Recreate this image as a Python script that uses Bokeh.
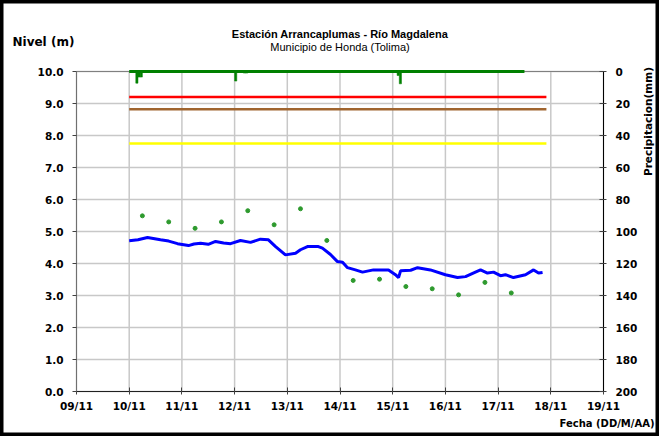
import math
import pandas as pd
from bokeh.plotting import figure
from bokeh.models import (ColumnDataSource, Range1d, LinearAxis, DatetimeAxis, FixedTicker,
                          DatetimeTickFormatter, PrintfTickFormatter, Label)
from bokeh.embed import file_html
from bokeh.resources import INLINE

# ---------------- data ----------------
level_time = [
    "2011-11-10 00:00", "2011-11-10 04:00", "2011-11-10 08:20", "2011-11-10 14:15",
    "2011-11-10 18:00", "2011-11-10 22:00",
    "2011-11-11 03:00", "2011-11-11 05:30", "2011-11-11 08:30", "2011-11-11 12:00",
    "2011-11-11 15:20", "2011-11-11 19:00", "2011-11-11 22:10",
    "2011-11-12 02:40", "2011-11-12 07:15", "2011-11-12 11:45", "2011-11-12 15:25",
    "2011-11-12 18:40", "2011-11-12 23:10", "2011-11-13 03:45", "2011-11-13 06:00",
    "2011-11-13 09:10", "2011-11-13 14:10", "2011-11-13 16:00", "2011-11-13 19:40",
    "2011-11-13 22:50", "2011-11-14 01:10", "2011-11-14 03:25", "2011-11-14 07:00",
    "2011-11-14 10:15", "2011-11-14 15:15", "2011-11-14 22:05", "2011-11-15 01:15",
    "2011-11-15 02:40", "2011-11-15 03:35", "2011-11-15 08:10", "2011-11-15 11:20",
    "2011-11-15 17:10", "2011-11-16 00:00", "2011-11-16 05:30", "2011-11-16 09:10",
    "2011-11-16 13:40", "2011-11-16 16:00", "2011-11-16 19:10", "2011-11-16 21:55",
    "2011-11-17 01:05", "2011-11-17 03:20", "2011-11-17 07:00", "2011-11-17 12:30",
    "2011-11-17 16:10", "2011-11-17 18:25", "2011-11-17 20:15",
]
level_m = [
    4.71, 4.74, 4.81, 4.74,
    4.70, 4.62,
    4.56, 4.61, 4.63, 4.60,
    4.69, 4.64, 4.62,
    4.72, 4.66, 4.76, 4.74,
    4.53, 4.27, 4.32, 4.43,
    4.53, 4.53, 4.48, 4.28,
    4.06, 4.04, 3.87, 3.80,
    3.73, 3.80, 3.80, 3.65,
    3.56, 3.77, 3.79, 3.87,
    3.80, 3.65, 3.56, 3.59,
    3.73, 3.80, 3.70, 3.73,
    3.62, 3.65, 3.56, 3.65,
    3.80, 3.70, 3.72,
]

reading_time = [
    "2011-11-10 06:00", "2011-11-10 18:00", "2011-11-11 06:00", "2011-11-11 18:00",
    "2011-11-12 06:00", "2011-11-12 18:00", "2011-11-13 06:00", "2011-11-13 18:00",
    "2011-11-14 06:00", "2011-11-14 18:00", "2011-11-15 06:00", "2011-11-15 18:00",
    "2011-11-16 06:00", "2011-11-16 18:00", "2011-11-17 06:00",
]
reading_m = [5.49, 5.30, 5.10, 5.30, 5.65, 5.21, 5.71, 4.72,
             3.47, 3.51, 3.28, 3.21, 3.02, 3.41, 3.08]

precip_start = "2011-11-10 00:00"
precip_end = "2011-11-17 12:00"
precip_time = ["2011-11-10 03:30", "2011-11-10 04:30", "2011-11-10 05:30",
               "2011-11-12 00:30", "2011-11-12 04:30", "2011-11-12 05:30",
               "2011-11-15 02:30", "2011-11-15 03:30"]
precip_mm = [7.3, 3.5, 3.5, 6.0, 1.0, 1.0, 2.5, 7.7]

alert_level = [9.2, 8.82, 7.75]
alert_color = ["#FF0000", "#A0652F", "#FFFF00"]
alert_start = "2011-11-10 00:00"
alert_end = "2011-11-17 22:00"

level_ticks = [0, 1, 2, 3, 4, 5, 6, 7, 8, 9, 10]
precip_ticks = [0, 20, 40, 60, 80, 100, 120, 140, 160, 180, 200]
day_ticks = ["2011-11-09", "2011-11-10", "2011-11-11", "2011-11-12", "2011-11-13",
             "2011-11-14", "2011-11-15", "2011-11-16", "2011-11-17", "2011-11-18",
             "2011-11-19"]

title_text = "Estación Arrancaplumas - Río Magdalena"
subtitle_text = "Municipio de Honda (Tolima)"
ylabel_text = "Nivel (m)"
y2label_text = "Precipitacion(mm)"
xlabel_text = "Fecha (DD/M/AA)"

# ---------------- geometry (page pixels) ----------------
W, H = 659, 436          # canvas size
OFF = 0                  # canvas offset on page
PL, PR, PT, PB = 76.0, 603.0, 71.0, 391.0   # plot area on page


def ms(s):
    return pd.Timestamp(s).timestamp() * 1000.0


t0 = ms(day_ticks[0])
t1 = ms(day_ticks[-1])
lev0, lev1 = level_ticks[0], level_ticks[-1]
pr0, pr1 = precip_ticks[-1], precip_ticks[0]   # precip: 200 at bottom, 0 at top

xs = (t1 - t0) / (PR - PL)          # ms per pixel
ys = (lev1 - lev0) / (PB - PT)      # level per pixel
ps = (pr0 - pr1) / (PB - PT)        # mm per pixel


def xpos(px):
    return t0 + (px - PL) * xs


def ypos(py):
    return lev0 + (PB - py) * ys


x_range = Range1d(xpos(OFF), xpos(OFF + W))
y_range = Range1d(ypos(OFF + H), ypos(OFF))
p_range = Range1d(pr0 + (OFF + H - PB) * ps, pr1 - (PT - OFF) * ps)

p = figure(width=W, height=H, x_axis_type=None, y_axis_type=None,
           x_range=x_range, y_range=y_range,
           output_backend="svg", toolbar_location=None,
           min_border=0, min_border_left=0, min_border_right=0,
           min_border_top=0, min_border_bottom=0)
p.background_fill_color = "white"
p.border_fill_color = "white"
# the frame fills the whole canvas, so its outline is the picture's black border
p.outline_line_color = "black"
p.outline_line_width = 6
p.grid.visible = False
p.extra_y_ranges = {"precip": p_range}

AX_FONT = "DejaVu Sans"
GRID = "#C8C8C8"

# grid lines (from the tick lists)
p.segment(x0=[t0] * len(level_ticks), x1=[t1] * len(level_ticks), y0=level_ticks, y1=level_ticks,
          line_color=GRID, line_width=1.5)
day_ms = [ms(d) for d in day_ticks]
p.segment(x0=day_ms, x1=day_ms, y0=[lev0] * len(day_ms), y1=[lev1] * len(day_ms),
          line_color=GRID, line_width=1.5)
# top edge of plot area
p.segment(x0=[t0], x1=[t1], y0=[lev1], y1=[lev1], line_color="#808080", line_width=1)

# axes (fixed at the plot-area edges)
xaxis = DatetimeAxis(fixed_location=lev0, bounds=(t0, t1), ticker=FixedTicker(ticks=day_ms))
xaxis.formatter = DatetimeTickFormatter(days="%d/%m", hours="%d/%m", months="%d/%m")
xaxis.axis_line_color = "#202020"
xaxis.major_tick_in = 4
xaxis.major_tick_out = 3
xaxis.major_label_standoff = 5
p.add_layout(xaxis, "below")

yaxis = LinearAxis(fixed_location=t0, bounds=(lev0, lev1), ticker=FixedTicker(ticks=level_ticks))
yaxis.formatter = PrintfTickFormatter(format="%.1f")
yaxis.axis_line_color = "#707070"
yaxis.major_tick_in = 0
yaxis.major_tick_out = 4
yaxis.major_label_standoff = 9
p.add_layout(yaxis, "left")

raxis = LinearAxis(fixed_location=t1, y_range_name="precip", bounds=(pr1, pr0),
                   ticker=FixedTicker(ticks=precip_ticks))
raxis.axis_line_color = "black"
raxis.major_tick_in = 4
raxis.major_tick_out = 3
raxis.major_label_standoff = 9
p.add_layout(raxis, "right")

for ax in [xaxis, yaxis, raxis]:
    ax.minor_tick_line_color = None
    ax.major_label_text_font = AX_FONT
    ax.major_label_text_font_style = "bold"
    ax.major_label_text_font_size = "10.5px"
    ax.major_label_text_color = "black"
    ax.major_tick_line_color = "#404040"

# alert lines
alert_src = ColumnDataSource(dict(
    x0=[ms(alert_start)] * len(alert_level),
    x1=[ms(alert_end)] * len(alert_level),
    y=alert_level, color=alert_color))
p.segment(x0="x0", y0="y", x1="x1", y1="y", line_color="color", line_width=2.5, source=alert_src)

# precipitation (hanging from the top, inverted right axis)
p.segment(x0=[ms(precip_start)], y0=[0], x1=[ms(precip_end)], y1=[0],
          y_range_name="precip", line_color="#008000", line_width=3)
p.vbar(x=[ms(t) for t in precip_time], top=[0] * len(precip_mm), bottom=precip_mm,
       width=3600 * 1000, y_range_name="precip", fill_color="#008000", line_color="#008000",
       line_width=0.5)

# level
p.line(x=[ms(t) for t in level_time], y=level_m, line_color="#0000FF", line_width=3)
p.scatter(x=[ms(t) for t in reading_time], y=reading_m, size=4, color="#2E9A2E")

# ---------------- text ----------------
p.add_layout(Label(x=xpos((PL + PR) / 2), y=ypos(33), text=title_text, text_align="center",
                   text_baseline="middle", text_font="Liberation Sans", text_font_style="bold",
                   text_font_size="11px", text_color="black"))
p.add_layout(Label(x=xpos((PL + PR) / 2), y=ypos(46), text=subtitle_text, text_align="center",
                   text_baseline="middle", text_font="Liberation Sans", text_font_style="normal",
                   text_font_size="11px", text_color="black"))
p.add_layout(Label(x=xpos(12), y=ypos(41), text=ylabel_text, text_align="left",
                   text_baseline="middle", text_font=AX_FONT, text_font_style="bold",
                   text_font_size="12px", text_color="black"))
p.add_layout(Label(x=xpos(654), y=ypos(423), text=xlabel_text, text_align="right",
                   text_baseline="middle", text_font=AX_FONT, text_font_style="bold",
                   text_font_size="10px", text_color="black"))
p.add_layout(Label(x=xpos(647), y=ypos(121), text=y2label_text, text_align="center",
                   text_baseline="middle", angle=math.pi / 2, text_font=AX_FONT,
                   text_font_style="bold", text_font_size="10.5px", text_color="black"))

open("out.html", "w").write(file_html(p, INLINE))
